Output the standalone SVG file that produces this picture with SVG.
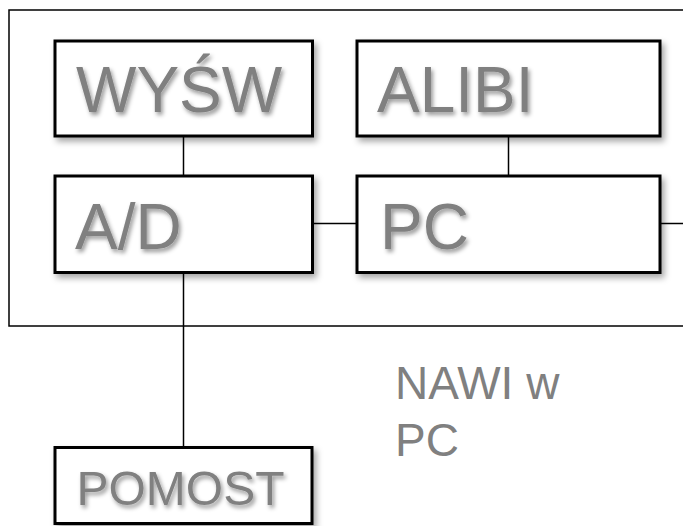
<svg xmlns="http://www.w3.org/2000/svg" width="683" height="526" viewBox="0 0 683 526">
<defs>
<filter id="bs" x="-10%" y="-10%" width="125%" height="130%">
<feDropShadow dx="3" dy="4" stdDeviation="3" flood-color="#000" flood-opacity="0.35"/>
</filter>
<filter id="ts" x="-10%" y="-20%" width="125%" height="150%">
<feDropShadow dx="2" dy="3" stdDeviation="2" flood-color="#000" flood-opacity="0.4"/>
</filter>
</defs>
<style>
.box{fill:#fff;stroke:#000;stroke-width:3;filter:url(#bs)}
.lbl{font-family:"Liberation Sans",Arial,sans-serif;fill:#808080;filter:url(#ts)}
.plain{font-family:"Liberation Sans",Arial,sans-serif;fill:#808080;font-size:46px}
.ln{stroke:#000;stroke-width:1.5;fill:none}
</style>
<rect width="683" height="526" fill="#fff"/>
<rect id="frame" x="9" y="10" width="690" height="316" fill="none" stroke="#000" stroke-width="1.5"/>
<g id="connectors">
<line class="ln" x1="183.5" y1="136" x2="183.5" y2="176"/>
<line class="ln" x1="508.5" y1="136" x2="508.5" y2="176"/>
<line class="ln" x1="312" y1="223.5" x2="357" y2="223.5"/>
<line class="ln" x1="660" y1="223.5" x2="690" y2="223.5"/>
<line class="ln" x1="183.5" y1="273" x2="183.5" y2="447"/>
</g>
<g id="wysw">
<rect class="box" x="55" y="41" width="257.5" height="95"/>
<text class="lbl" x="76" y="111.5" font-size="64">WYŚW</text>
</g>
<g id="alibi">
<rect class="box" x="357" y="41" width="303" height="95"/>
<text class="lbl" x="377" y="111.5" font-size="64">ALIBI</text>
</g>
<g id="ad">
<rect class="box" x="55" y="176" width="257.5" height="96.5"/>
<text class="lbl" x="75" y="248.5" font-size="64">A/D</text>
</g>
<g id="pc">
<rect class="box" x="357" y="176" width="303" height="96.5"/>
<text class="lbl" x="380" y="248.5" font-size="64">PC</text>
</g>
<g id="pomost">
<rect class="box" x="55" y="447.5" width="257" height="76"/>
<text class="lbl" x="76.5" y="505" font-size="48">POMOST</text>
</g>
<g id="nawi">
<text class="plain" x="395" y="398.5">NAWI w</text>
<text class="plain" x="395" y="456">PC</text>
</g>
</svg>
